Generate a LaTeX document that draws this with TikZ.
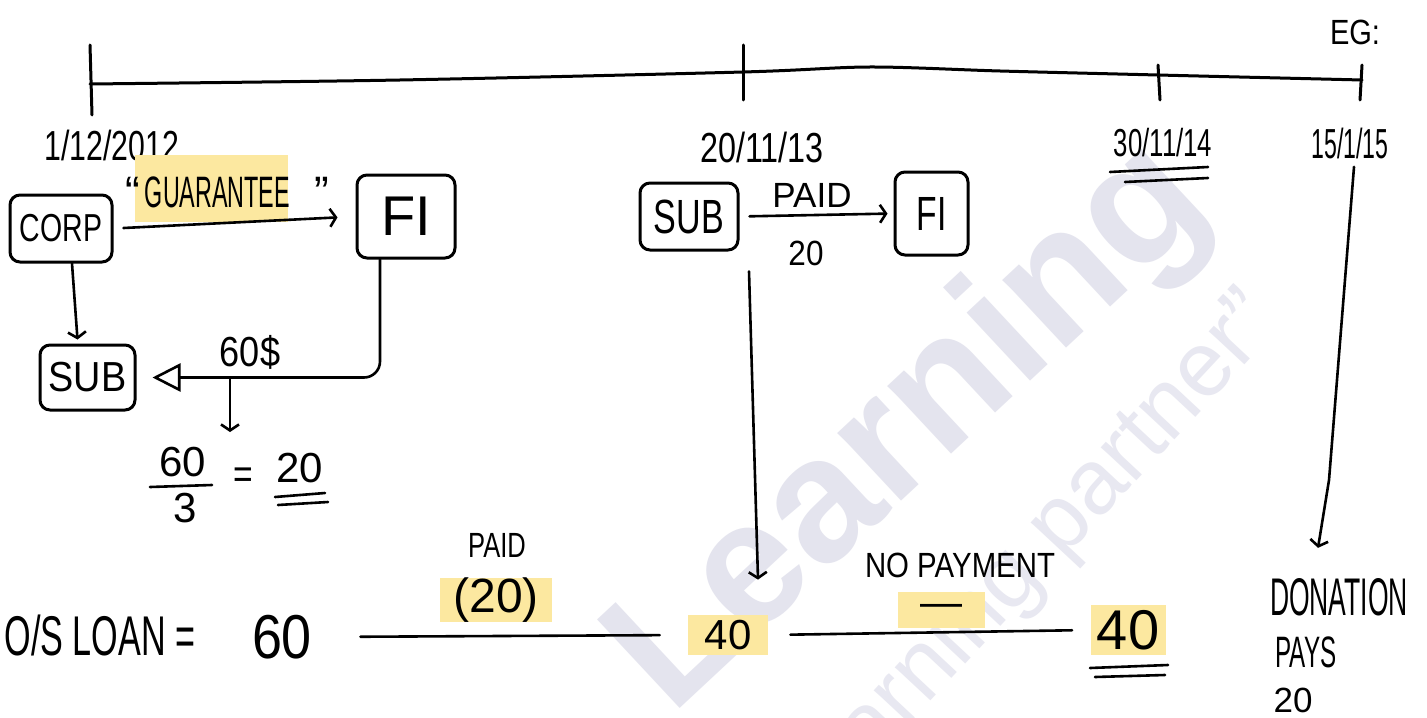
\documentclass[tikz,border=0pt]{standalone}
\usepackage{fontspec}
\setmainfont{Liberation Sans}
\usetikzlibrary{arrows.meta}
\definecolor{hl}{RGB}{252,232,160}
\definecolor{wmc}{RGB}{228,228,238}
\definecolor{wmd}{RGB}{232,232,241}
\newcommand{\hwt}[3]{\fontsize{#1}{#1}\selectfont\scalebox{#2}[1]{#3}}
\tikzset{
  box/.style={draw, line width=1.5pt, rounded corners=5pt, inner sep=0pt},
  lbl/.style={inner sep=0pt, anchor=center},
  hlbox/.style={fill=hl, inner sep=0pt},
  conn/.style={line width=1.3pt, line cap=round, line join=round},
  tip/.style={-{Straight Barb[length=3pt,width=9pt]}},
  tick/.style={line width=1.5pt, line cap=round}
}
\begin{document}
\begin{tikzpicture}[x=0.5pt,y=-0.5pt]
\useasboundingbox (0,0) rectangle (1427,717);
\fill[white] (0,0) rectangle (1427,717);
% watermark
\node[text=wmc, font=\fontsize{88}{88}\selectfont\bfseries, rotate=43] (wmA) at (912,430) {Learning};
\node[text=wmd, font=\fontsize{46}{46}\selectfont, rotate=47] (wmB) at (1035,555) {learning partner”};
% timeline
\draw[tick] plot[smooth] coordinates {(90,84) (400,80) (743,72) (870,67) (1000,71) (1158,75) (1362,80)};
\draw[tick] (90,45) -- (92,115);
\draw[tick] (743,45) -- (743,100);
\draw[tick] (1158,65) -- (1160,100);
\draw[tick] (1362,65) -- (1360,100);
% dates
\node[lbl] (d1) at (112,145) {\hwt{21}{0.72}{1/12/2012}};
\node[lbl] (d2) at (762,147) {\hwt{21}{0.77}{20/11/13}};
\node[lbl] (d3) at (1163,143) {\hwt{19.5}{0.66}{30/11/14}};
\node[lbl] (d4) at (1350,143) {\hwt{21}{0.55}{15/1/15}};
\node[lbl] (eg) at (1355,32) {\hwt{17.5}{0.83}{EG:}};
\draw[conn] (1110,172) -- (1208,167);
\draw[conn] (1125,182) -- (1208,178);
% left group
\node[hlbox, minimum width=76.5pt, minimum height=33.5pt] (hlg) at (211.5,188.5) {};
\node[lbl] (guar) at (227,192) {\fontsize{22}{22}\selectfont “\hspace{2.5pt}\scalebox{0.53}[1]{GUARANTEE}\hspace{12pt}”};
\node[box, minimum width=51pt, minimum height=33.5pt] (corp) at (61,228.5) {\hwt{19.5}{0.73}{CORP}};
\node[box, minimum width=49pt, minimum height=41.5pt] (fi1) at (406,216.5) {\hwt{28}{1}{FI}};
\node[box, minimum width=47.5pt, minimum height=32.5pt] (sub1) at (87.5,377.5) {\hwt{21}{0.9}{SUB}};
\draw[conn, tip, shorten <=5pt, shorten >=9pt] (corp.east) -- (fi1.west);
\draw[conn, tip] ([xshift=5.5pt]corp.south) -- ([xshift=-5pt,yshift=2pt]sub1.north);
\draw[conn, rounded corners=8pt, -{Triangle[open,length=14pt,width=14pt,line width=1.3pt]}] ([xshift=-13pt]fi1.south) |- ([xshift=8pt]sub1.east);
\node[lbl] (lbl60) at (250,352) {\hwt{21}{0.86}{60\$}};
\coordinate (br) at (230,378);
\coordinate (brend) at (230,432);
\draw[conn, tip] (br) -- (brend);
\node[lbl] (fn) at (183,462) {\hwt{21}{1}{60}};
\draw[conn] (150,487) -- (212,485);
\node[lbl] (fd) at (185,508) {\hwt{21}{1}{3}};
\node[lbl] (feq) at (243,478) {\hwt{21}{0.8}{=}};
\node[lbl] (fres) at (300,468) {\hwt{21}{1}{20}};
\draw[conn] (275,497) -- (325,493);
\draw[conn] (278,505) -- (328,502);
% middle group
\node[box, minimum width=49pt, minimum height=33.5pt] (sub2) at (689,216.5) {\hwt{24}{0.71}{SUB}};
\node[box, minimum width=36.5pt, minimum height=41.5pt] (fi2) at (931.5,213.5) {\hwt{24}{0.7}{FI}};
\draw[conn, tip, shorten <=5pt, shorten >=3pt] (sub2.east) -- (fi2.west);
\node[lbl] (paid1) at (812,195) {\hwt{17.5}{1}{PAID}};
\node[lbl] (p20) at (806,253) {\hwt{17.5}{0.9}{20}};
% bottom row
\node[lbl] (os) at (100,635) {\hwt{28}{0.61}{O/S LOAN =}};
\node[lbl] (s60) at (282,637) {\hwt{31}{0.87}{60}};
\node[hlbox, minimum width=40pt, minimum height=20pt] (m40) at (728,635) {\hwt{21}{1}{40}};
\node[lbl] (paid2) at (497,545) {\hwt{17.5}{0.73}{PAID}};
\node[hlbox, minimum width=56pt, minimum height=22pt] (p20b) at (496,600) {\hwt{24}{1}{(20)}};
\node[lbl] (nop) at (960,565) {\hwt{17.5}{0.84}{NO PAYMENT}};
\node[hlbox, minimum width=43.5pt, minimum height=18pt] (dash) at (941,610) {\hwt{21}{1}{—}};
\node[hlbox, minimum width=37.5pt, minimum height=25pt] (r40) at (1128,630) {\hwt{28}{1}{40}};
\draw[conn] (1090,668) -- (1168,665);
\draw[conn] (1095,677) -- (1165,675);
\draw[conn, shorten <=24pt, shorten >=14pt] (s60.east) -- (m40.west);
\draw[conn, shorten <=11pt, shorten >=9pt] (m40.east) -- (r40.west);
\draw[conn, tip] ([xshift=30pt,yshift=-10pt]sub2.south) -- ([xshift=15pt,yshift=17.5pt]m40.north);
% right group
\node[lbl] (don) at (1339,597) {\hwt{26.5}{0.5}{DONATION}};
\node[lbl] (pays) at (1306,652) {\hwt{22}{0.55}{PAYS}};
\node[lbl] (d20) at (1293,700) {\hwt{17.5}{1}{20}};
\draw[conn, tip] ([xshift=2pt,yshift=-4pt]d4.south) -- (1329,480) -- ([xshift=-10.5pt,yshift=15pt]don.north);
\end{tikzpicture}
\end{document}
